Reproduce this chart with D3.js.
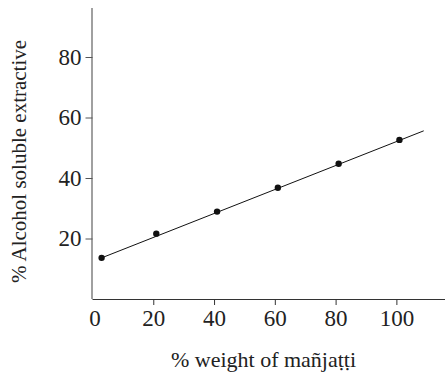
<!DOCTYPE html>
<html>
<head>
<meta charset="utf-8">
<script src="https://cdn.jsdelivr.net/npm/d3@7"></script>
<style>
  body { margin: 0; background: #fff; }
</style>
</head>
<body>
<div id="chart"></div>
<script>
// Dữ liệu
const weightPct = [3, 21, 41, 61, 81, 101];
const extractivePct = [13.6, 21.6, 28.9, 36.8, 44.7, 52.6];
const fitX = [3, 109];
const fitY = [13.6, 55.6];
const xTicks = [0, 20, 40, 60, 80, 100];
const yTicks = [20, 40, 60, 80];

const serif = "'Liberation Serif', 'Times New Roman', 'DejaVu Serif', serif";

let fullWidth = 446, fullHeight = 376;
let margin = { top: 8, right: 1, bottom: 77, left: 92.5 };
let width = fullWidth - margin.left - margin.right;
let height = fullHeight - margin.top - margin.bottom;

let svg = d3.select("#chart")
    .append("svg")
    .attr("width", fullWidth)
    .attr("height", fullHeight);

let g = svg.append("g")
    .attr("transform", `translate(${margin.left},${margin.top})`);

let x = d3.scaleLinear().domain([0, 116]).range([0, width]);
let y = d3.scaleLinear().domain([0, 96.2]).range([height, 0]);

// Trục X
let xAxis = g.append("g")
    .attr("transform", `translate(0,${height})`)
    .call(d3.axisBottom(x).tickValues(xTicks).tickSize(6).tickPadding(5).tickFormat(d3.format("d")));
xAxis.select(".domain").attr("stroke", "#333").attr("d", `M0,0.5H${width}`);
xAxis.selectAll(".tick line").attr("stroke", "#333").filter(d => d === 0).remove();
xAxis.selectAll("text")
    .style("font-family", serif).style("font-size", "23px").attr("fill", "#222")
    .attr("dx", d => d === 0 ? 2 : 0);

// Trục Y
let yAxis = g.append("g")
    .call(d3.axisLeft(y).tickValues(yTicks).tickSize(7).tickPadding(4));
yAxis.select(".domain").attr("stroke", "#808080").attr("stroke-width", 1.5).attr("d", `M-0.5,${height}V0`);
yAxis.selectAll(".tick line").attr("stroke", "#555");
yAxis.selectAll("text")
    .style("font-family", serif).style("font-size", "23px").attr("fill", "#222");

// Đường hồi quy
let line = d3.line().x(d => x(d[0])).y(d => y(d[1]));
g.append("path")
    .datum(d3.zip(fitX, fitY))
    .attr("d", line)
    .attr("fill", "none")
    .attr("stroke", "#111")
    .attr("stroke-width", 1);

// Các điểm dữ liệu
g.selectAll(".dot")
    .data(d3.zip(weightPct, extractivePct))
    .enter()
    .append("circle")
    .attr("class", "dot")
    .attr("cx", d => x(d[0]))
    .attr("cy", d => y(d[1]))
    .attr("r", 3.2)
    .attr("fill", "#111");

// Nhãn trục
svg.append("text")
    .attr("x", 263.5)
    .attr("y", 367)
    .attr("text-anchor", "middle")
    .style("font-family", serif)
    .style("font-size", "22px")
    .attr("fill", "#222")
    .text("% weight of mañjaṭṭi");

svg.append("text")
    .attr("transform", "translate(26,161.5) rotate(-90)")
    .attr("text-anchor", "middle")
    .style("font-family", serif)
    .style("font-size", "21px")
    .attr("fill", "#222")
    .text("% Alcohol soluble extractive");
</script>
</body>
</html>
